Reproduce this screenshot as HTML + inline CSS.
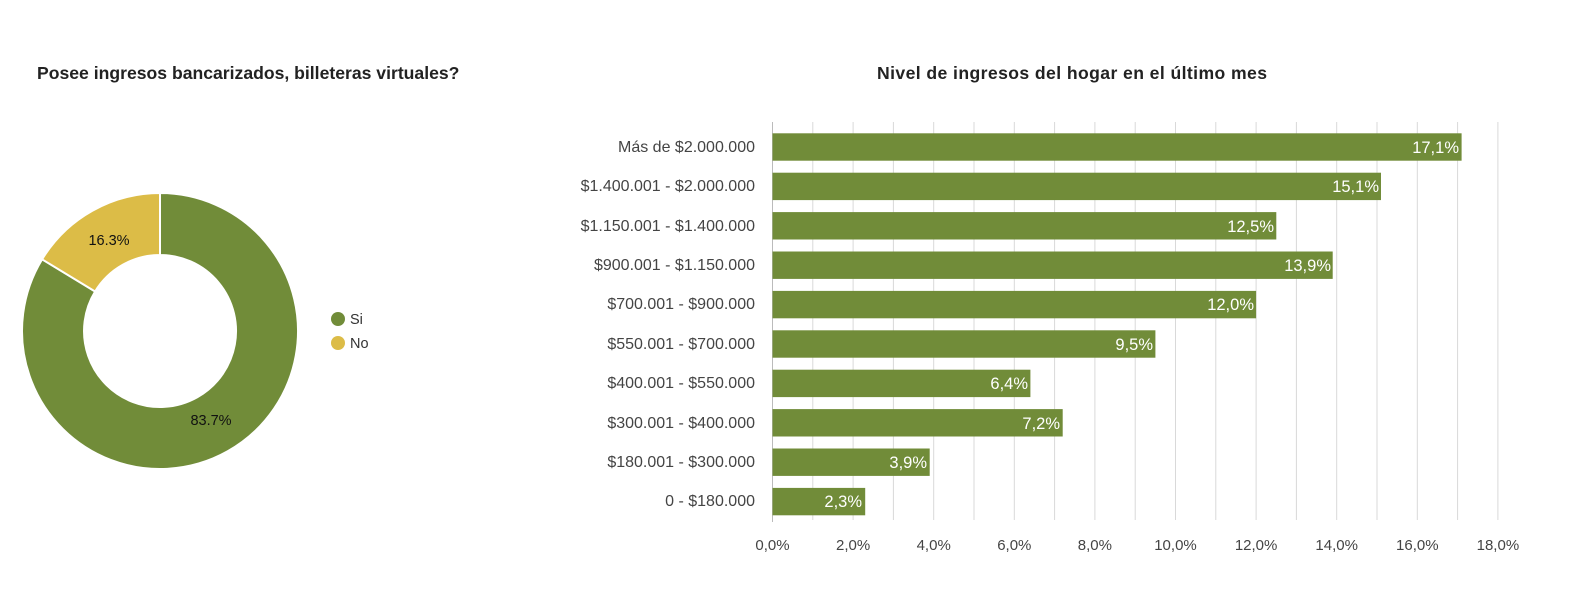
<!DOCTYPE html>
<html><head><meta charset="utf-8"><style>
body{margin:0;background:#fff;}
svg{display:block;font-family:"Liberation Sans",Arial,sans-serif;}
</style></head><body>
<svg width="1571" height="598" viewBox="0 0 1571 598">
<text x="37" y="79" font-size="17.6" font-weight="bold" fill="#222">Posee ingresos bancarizados, billeteras virtuales?</text>
<text x="1072" y="79" font-size="17.6" font-weight="bold" fill="#222" text-anchor="middle" textLength="390">Nivel de ingresos del hogar en el último mes</text>
<!-- donut -->
<path d="M160,193 A138,138 0 1 1 42.1,259.3 L95.1,291.5 A76,76 0 1 0 160,255 Z" fill="#718c39" stroke="#fff" stroke-width="2"/>
<path d="M160,193 L160,255 A76,76 0 0 0 95.1,291.5 L42.1,259.3 A138,138 0 0 1 160,193 Z" fill="#dcbc47" stroke="#fff" stroke-width="2"/>
<text x="109" y="245" font-size="14.5" fill="#111" text-anchor="middle">16.3%</text>
<text x="211" y="425" font-size="14.5" fill="#111" text-anchor="middle">83.7%</text>
<circle cx="338" cy="319" r="7" fill="#718c39"/>
<text x="350" y="324" font-size="14.5" fill="#333">Si</text>
<circle cx="338" cy="343" r="7" fill="#dcbc47"/>
<text x="350" y="348" font-size="14.5" fill="#333">No</text>
<!-- grid -->
<g stroke="#d9d9d9" stroke-width="1">
<line x1="812.8" y1="122" x2="812.8" y2="520"/><line x1="853.1" y1="122" x2="853.1" y2="520"/>
<line x1="893.4" y1="122" x2="893.4" y2="520"/><line x1="933.7" y1="122" x2="933.7" y2="520"/>
<line x1="974" y1="122" x2="974" y2="520"/><line x1="1014.3" y1="122" x2="1014.3" y2="520"/>
<line x1="1054.6" y1="122" x2="1054.6" y2="520"/><line x1="1094.9" y1="122" x2="1094.9" y2="520"/>
<line x1="1135.2" y1="122" x2="1135.2" y2="520"/><line x1="1175.5" y1="122" x2="1175.5" y2="520"/>
<line x1="1215.8" y1="122" x2="1215.8" y2="520"/><line x1="1256.1" y1="122" x2="1256.1" y2="520"/>
<line x1="1296.4" y1="122" x2="1296.4" y2="520"/><line x1="1336.7" y1="122" x2="1336.7" y2="520"/>
<line x1="1377" y1="122" x2="1377" y2="520"/><line x1="1417.3" y1="122" x2="1417.3" y2="520"/>
<line x1="1457.6" y1="122" x2="1457.6" y2="520"/><line x1="1497.9" y1="122" x2="1497.9" y2="520"/>
</g>
<line x1="772.5" y1="122" x2="772.5" y2="522" stroke="#bbb"/>
<g fill="#718c39">
<rect x="772.5" y="133.3" width="689.1" height="27.4"/>
<rect x="772.5" y="172.7" width="608.5" height="27.4"/>
<rect x="772.5" y="212.1" width="503.8" height="27.4"/>
<rect x="772.5" y="251.5" width="560.2" height="27.4"/>
<rect x="772.5" y="290.9" width="483.6" height="27.4"/>
<rect x="772.5" y="330.3" width="382.9" height="27.4"/>
<rect x="772.5" y="369.7" width="257.9" height="27.4"/>
<rect x="772.5" y="409.1" width="290.2" height="27.4"/>
<rect x="772.5" y="448.5" width="157.2" height="27.4"/>
<rect x="772.5" y="487.9" width="92.7" height="27.4"/>
</g>
<g fill="#fff" font-size="16.5" text-anchor="end">
<text x="1459" y="153">17,1%</text><text x="1379" y="192">15,1%</text>
<text x="1274" y="232">12,5%</text><text x="1331" y="271">13,9%</text>
<text x="1254" y="310">12,0%</text><text x="1153" y="350">9,5%</text>
<text x="1028" y="389">6,4%</text><text x="1060" y="429">7,2%</text>
<text x="927" y="468">3,9%</text><text x="862" y="507">2,3%</text>
</g>
<g fill="#444" font-size="16" text-anchor="end">
<text x="755" y="152">Más de $2.000.000</text>
<text x="755" y="191">$1.400.001 - $2.000.000</text>
<text x="755" y="231">$1.150.001 - $1.400.000</text>
<text x="755" y="270">$900.001 - $1.150.000</text>
<text x="755" y="309">$700.001 - $900.000</text>
<text x="755" y="349">$550.001 - $700.000</text>
<text x="755" y="388">$400.001 - $550.000</text>
<text x="755" y="428">$300.001 - $400.000</text>
<text x="755" y="467">$180.001 - $300.000</text>
<text x="755" y="506">0 - $180.000</text>
</g>
<g fill="#444" font-size="15" text-anchor="middle">
<text x="772.5" y="550">0,0%</text><text x="853.1" y="550">2,0%</text>
<text x="933.7" y="550">4,0%</text><text x="1014.3" y="550">6,0%</text>
<text x="1094.9" y="550">8,0%</text><text x="1175.5" y="550">10,0%</text>
<text x="1256.1" y="550">12,0%</text><text x="1336.7" y="550">14,0%</text>
<text x="1417.3" y="550">16,0%</text><text x="1497.9" y="550">18,0%</text>
</g>
</svg>
</body></html>
